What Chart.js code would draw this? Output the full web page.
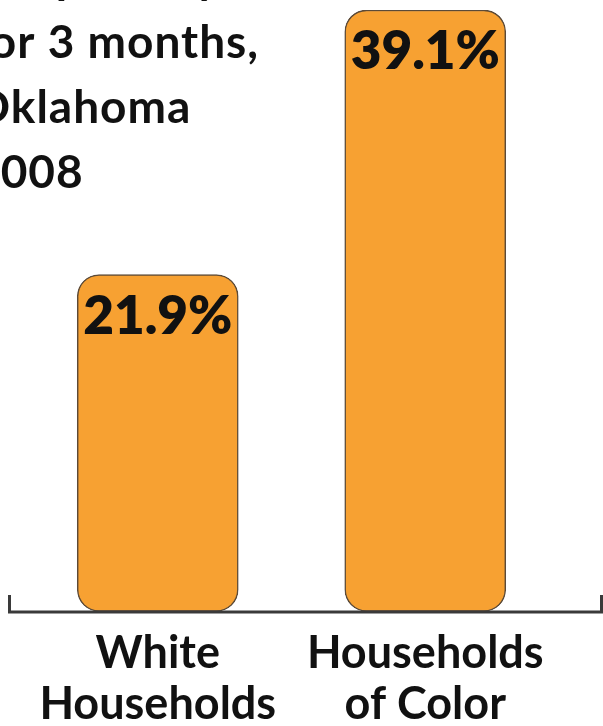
<!DOCTYPE html>
<html>
<head>
<meta charset="utf-8">
<script src="https://cdn.jsdelivr.net/npm/chart.js@4/dist/chart.umd.min.js"></script>
<style>
  html, body { margin: 0; padding: 0; background: #fff; overflow: hidden; }
  /* canvas runs a little past the window bottom, like the cropped original */
  #wrap { position: relative; width: 603px; height: 746px; }
</style>
</head>
<body>
<div id="wrap"><canvas id="myChart"></canvas></div>
<script>
// data
const categories = [["White", "Households"], ["Households", "of Color"]];
const shares = [21.9, 39.1];
const valueLabels = ["21.9%", "39.1%"];
// title is cropped in the reference, only the tail of each line shows
const titleLines = ["the poverty level", "for 3 months,", "Oklahoma", "2008"];

const barColor = "#f7a132";
const barEdge = "#5b4a38";
const axisColor = "#3a3a3a";

// percent text inside bars
const valueLabelPlugin = {
  id: "valueLabels",
  afterDatasetsDraw(chart) {
    const ctx = chart.ctx;
    const meta = chart.getDatasetMeta(0);
    ctx.save();
    ctx.font = "800 53px Lato";
    ctx.fillStyle = "#111";
    ctx.textAlign = "center";
    ctx.textBaseline = "alphabetic";
    meta.data.forEach((bar, i) => {
      ctx.fillText(valueLabels[i], bar.x, bar.y + 59);
    });
    ctx.restore();
  },
};

// baseline with small upturned ends
const axisLinePlugin = {
  id: "axisLine",
  afterDatasetsDraw(chart) {
    const ctx = chart.ctx;
    const y = chart.chartArea.bottom + 0.5;
    ctx.save();
    ctx.strokeStyle = axisColor;
    ctx.lineWidth = 3;
    ctx.beginPath();
    ctx.moveTo(9.5, y - 17);
    ctx.lineTo(9.5, y);
    ctx.lineTo(chart.width - 1.5, y);
    ctx.lineTo(chart.width - 1.5, y - 17);
    ctx.stroke();
    ctx.restore();
  },
};

const titlePlugin = {
  id: "croppedTitle",
  afterDraw(chart) {
    const ctx = chart.ctx;
    ctx.save();
    ctx.font = "bold 46px Lato";
    ctx.letterSpacing = "1px";
    ctx.fillStyle = "#111";
    ctx.textAlign = "left";
    ctx.textBaseline = "alphabetic";
    titleLines.forEach((line, i) => {
      ctx.fillText(line, -27, -7 + i * 65);
    });
    ctx.restore();
  },
};

const ctx = document.getElementById("myChart").getContext("2d");
const myChart = new Chart(ctx, {
  type: "bar",
  data: {
    labels: categories,
    datasets: [
      {
        data: shares,
        backgroundColor: barColor,
        borderColor: barEdge,
        borderWidth: 1.5,
        borderRadius: 22,
        borderSkipped: false,
        barThickness: 161,
      },
    ],
  },
  options: {
    responsive: true,
    maintainAspectRatio: false,
    animation: false,
    layout: {
      padding: { top: 10, left: 24, right: 44, bottom: 0 },
    },
    plugins: {
      legend: { display: false },
      tooltip: { enabled: false },
    },
    scales: {
      x: {
        grid: { display: false, drawTicks: false },
        border: { display: false },
        ticks: {
          color: "#111",
          padding: 16,
          maxRotation: 0,
          autoSkip: false,
          font: { family: "Lato", size: 45, weight: "bold", lineHeight: 1.14 },
        },
      },
      y: {
        display: false,
        min: 0,
        max: 39.1,
      },
    },
  },
  plugins: [valueLabelPlugin, axisLinePlugin, titlePlugin],
});
</script>
</body>
</html>
